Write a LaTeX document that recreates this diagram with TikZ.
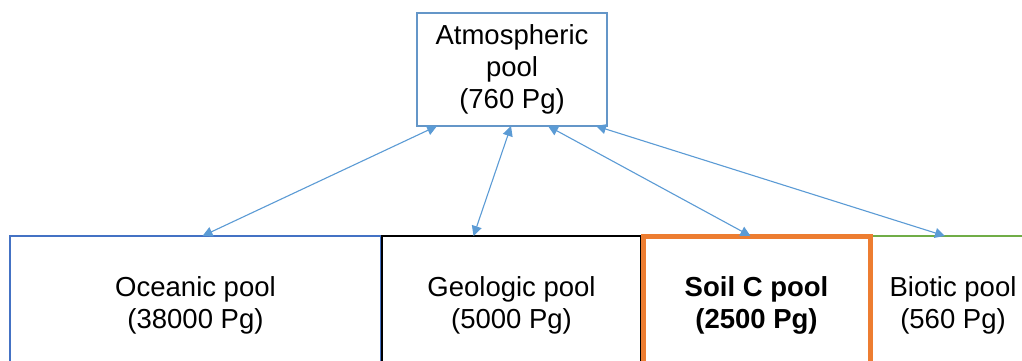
\documentclass[tikz,border=0pt]{standalone}
\usepackage{fontspec}
\setmainfont{Liberation Sans}
\usepackage{xcolor}
\usetikzlibrary{arrows.meta,positioning,calc}

\definecolor{fluxblue}{RGB}{91,155,213}
\definecolor{atmblue}{RGB}{100,150,200}
\definecolor{oceanblue}{RGB}{68,114,196}
\definecolor{soilorange}{RGB}{237,125,49}
\definecolor{biogreen}{RGB}{112,173,71}

\begin{document}
\begin{tikzpicture}[
    x=1pt, y=-1pt,
    atmbox/.style={rectangle, draw=atmblue, line width=2pt, align=center, minimum width=190pt, minimum height=113pt, inner sep=0pt, outer sep=0pt, font=\fontsize{27.5}{32}\selectfont},
    poolbox/.style={rectangle, align=center, anchor=north west, minimum height=138pt, inner sep=0pt, outer sep=0pt, font=\fontsize{27.5}{32}\selectfont},
    flux/.style={{Triangle[length=10pt,width=10pt]}-{Triangle[length=10pt,width=10pt]}, line width=1.1pt, draw=fluxblue}
]
    \useasboundingbox (0,0) rectangle (1022,361);
    \clip (0,0) rectangle (1022,361);
    \fill[white] (0,0) rectangle (1022,361);

    % atmosphere
    \node [atmbox] (atm) at (512,69.5) {Atmospheric\\pool\\(760 Pg)};

    % the four pools below
    \node [poolbox, draw=oceanblue, line width=1.5pt, minimum width=371pt] (ocean) at (10,236) {Oceanic pool\\(38000 Pg)};
    \node [poolbox, draw=black, line width=2.5pt, minimum width=259pt] (geo) at (382,236) {Geologic pool\\(5000 Pg)};
    \node [poolbox, draw=biogreen, line width=1.5pt, minimum width=162pt] (bio) at (872,236) {Biotic pool\\(560 Pg)};
    \node [poolbox, draw=soilorange, line width=5pt, minimum width=227pt] (soil) at (643,236) {\textbf{Soil C pool}\\\textbf{(2500 Pg)}};

    % exchanges
    \draw [flux] ([xshift=20pt]atm.south west) -- ([xshift=7pt]ocean.north);
    \draw [flux] ([xshift=-1pt]atm.south) -- ([xshift=-38pt]geo.north);
    \draw [flux] ([xshift=36pt]atm.south) -- ([xshift=-6pt]soil.north);
    \draw [flux] ([xshift=-11pt]atm.south east) -- ([xshift=73pt]bio.north west);
\end{tikzpicture}
\end{document}
